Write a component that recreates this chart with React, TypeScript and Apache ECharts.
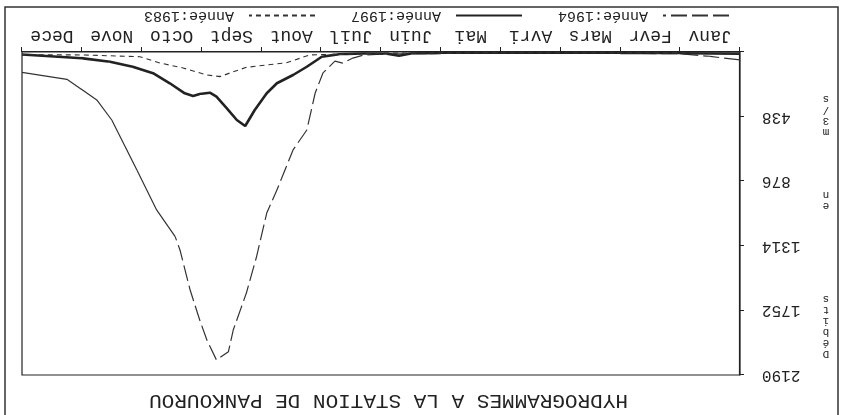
import React, { useEffect, useRef } from "react";
import * as echarts from "echarts";

const months = ["Janv", "Fevr", "Mars", "Avri", "Mai", "Juin", "Juil", "Aout", "Sept", "Octo", "Nove", "Dece"];
const yMax = 2190;
const yStep = 438;

// month position (0 = 1 Jan, 12 = 31 Dec) and discharge (m3/s)
const x1964 = [0, 0.5, 1, 2, 3, 4, 5, 5.7, 6, 6.3, 6.47, 6.64, 6.77, 6.97, 7.1, 7.24, 7.47, 7.74, 7.91, 8.08, 8.25, 8.47, 8.55, 8.75, 8.91, 9.03, 9.19, 9.36, 9.44, 9.75, 10.08, 10.5, 10.75, 11.25, 12];
const v1964 = [54, 30, 12, 9, 8, 8, 10, 12, 15, 22, 41, 75, 62, 142, 278, 529, 664, 936, 1092, 1388, 1634, 1885, 2032, 2088, 1953, 1817, 1614, 1342, 1252, 1071, 800, 461, 325, 185, 138];
// the plotter drew the 1964 recession (from mid-September) as a continuous stroke
const solidFrom1964 = 9.44;

const x1997 = [0, 1, 2, 3, 4, 5, 5.5, 5.7, 5.9, 6.3, 6.7, 6.99, 7.24, 7.47, 7.74, 7.91, 8.11, 8.27, 8.41, 8.58, 8.75, 8.86, 9.03, 9.14, 9.28, 9.53, 9.81, 10.15, 10.53, 10.98, 12];
const v1997 = [12, 8, 6, 5, 5, 6, 10, 25, 12, 10, 15, 32, 100, 156, 212, 280, 393, 502, 461, 380, 303, 276, 285, 298, 280, 212, 144, 100, 66, 43, 17];

const x1983 = [0, 1, 2, 3, 4, 5, 6, 6.6, 7.0, 7.19, 7.36, 7.58, 7.91, 8.25, 8.47, 8.69, 8.91, 9.31, 9.69, 10.03, 10.98, 12];
const v1983 = [8, 6, 5, 5, 5, 6, 8, 15, 18, 20, 43, 73, 88, 104, 134, 167, 156, 108, 75, 32, 20, 18];

const MONO = '"Liberation Mono", "DejaVu Sans Mono", monospace';
const INK = "#222";

const pairs = (xs: number[], vs: number[]) => xs.map((x, i) => [x, vs[i]]);

export default function App() {
  const ref = useRef<HTMLDivElement>(null);
  useEffect(() => {
    if (!ref.current) return;
    const chart = echarts.init(ref.current, null, { renderer: "svg" });
    const all1964 = pairs(x1964, v1964);
    const nameTxt = (text: string, y: number) => ({
      type: "text",
      silent: true,
      style: { text, x: 18, y, align: "center", verticalAlign: "top", font: `11px ${MONO}`, lineHeight: 11, fill: INK },
    });
    chart.setOption({
      animation: false,
      backgroundColor: "#fff",
      color: ["#333", "#222", "#333"],
      title: {
        text: "HYDROGRAMMES A LA STATION DE PANKOUROU",
        left: 211,
        top: -1,
        textStyle: { fontFamily: MONO, fontSize: 21, fontWeight: "normal", color: INK },
      },
      legend: {
        left: 109,
        top: 387,
        itemWidth: 66,
        itemHeight: 14,
        itemGap: 35,
        itemStyle: { opacity: 0 },
        textStyle: { fontFamily: MONO, fontSize: 15, color: INK, padding: [0, 0, 0, 10] },
        data: ["Année:1964", "Année:1997", "Année:1983"],
      },
      grid: {
        left: 104,
        right: 22,
        top: 40,
        bottom: 52,
        show: true,
        borderColor: INK,
        borderWidth: 1.2,
      },
      xAxis: [
        {
          type: "category",
          data: months,
          boundaryGap: true,
          axisLine: { lineStyle: { color: INK, width: 1.2 } },
          axisTick: { show: true, length: 5, lineStyle: { color: INK } },
          axisLabel: { fontFamily: MONO, fontSize: 18, color: INK, margin: 7 },
          splitLine: { show: false },
        },
        { type: "value", min: 0, max: 12, show: false },
      ],
      yAxis: {
        type: "value",
        min: 0,
        max: yMax,
        interval: yStep,
        axisLine: { show: true, lineStyle: { color: INK, width: 1.2 } },
        axisTick: { show: true, length: 4, lineStyle: { color: INK } },
        axisLabel: {
          fontFamily: MONO,
          fontSize: 16,
          color: INK,
          margin: 22,
          formatter: (v: number) => (v === 0 ? "" : String(v)),
        },
        splitLine: { show: false },
      },
      series: [
        {
          name: "Année:1964",
          type: "line",
          xAxisIndex: 1,
          symbol: "none",
          data: all1964.filter((p) => p[0] <= solidFrom1964),
          lineStyle: { color: "#333", width: 1.2, type: [16, 5] },
        },
        {
          name: "Année:1997",
          type: "line",
          xAxisIndex: 1,
          symbol: "none",
          data: pairs(x1997, v1997),
          lineStyle: { color: "#222", width: 2.6, type: "solid" },
        },
        {
          name: "Année:1983",
          type: "line",
          xAxisIndex: 1,
          symbol: "none",
          data: pairs(x1983, v1983),
          lineStyle: { color: "#333", width: 1.1, type: [5, 4] },
        },
        {
          name: "Année:1964",
          type: "line",
          xAxisIndex: 1,
          symbol: "none",
          data: all1964.filter((p) => p[0] >= solidFrom1964),
          lineStyle: { color: "#333", width: 1.2, type: "solid" },
        },
      ],
      graphic: [
        {
          type: "rect",
          silent: true,
          shape: { x: 6, y: -5, width: 833, height: 413 },
          style: { fill: "none", stroke: "#333", lineWidth: 1.5 },
        },
        nameTxt("D\né\nb\ni\nt\ns", 55),
        nameTxt("e\nn", 203),
        nameTxt("m\n3\n/\ns", 277),
      ],
    });
    return () => chart.dispose();
  }, []);
  return (
    <div
      ref={ref}
      style={{
        position: "fixed",
        left: 0,
        top: 0,
        width: 844,
        height: 415,
        transform: "rotate(180deg)",
        background: "#fff",
      }}
    />
  );
}
